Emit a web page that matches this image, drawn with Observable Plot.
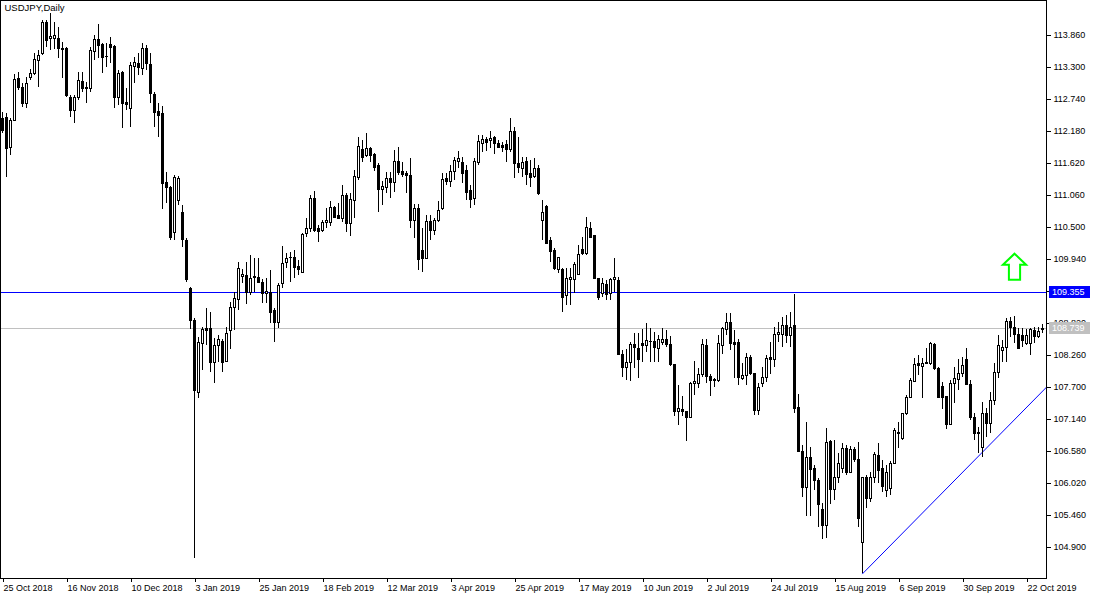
<!DOCTYPE html>
<html><head><meta charset="utf-8">
<script src="https://cdn.jsdelivr.net/npm/d3@7"></script>
<script src="https://cdn.jsdelivr.net/npm/@observablehq/plot@0.6"></script>
<style>
html,body{margin:0;padding:0;background:#fff;}
#chart{width:1100px;height:600px;}
</style></head><body><div id="chart"></div>
<script>
const title = "USDJPY,Daily";
const open = [
112.41,112.43,111.90,112.37,113.11,112.95,112.67,113.13,113.20,113.42,
113.55,114.09,113.81,113.81,113.81,113.63,113.63,112.78,112.55,112.78,
113.06,112.95,112.93,113.58,113.79,113.70,113.49,113.70,113.67,112.78,
113.21,112.69,112.58,113.32,113.37,113.28,113.63,113.35,112.83,112.53,
112.50,111.29,111.20,110.41,110.97,110.76,110.27,109.43,108.87,107.61,
108.47,108.73,108.73,108.14,108.44,108.51,108.16,108.70,109.10,109.24,
109.64,109.66,109.36,109.64,109.62,109.54,109.35,109.36,109.05,108.84,
109.52,109.89,109.98,109.98,109.82,109.71,110.40,110.48,111.01,110.48,
110.45,110.59,110.59,110.85,110.71,110.66,111.06,110.57,110.97,111.38,
111.87,111.76,111.88,111.78,111.59,111.16,111.20,111.36,111.29,111.65,
111.48,111.45,111.41,110.62,110.83,110.10,109.96,110.60,110.45,110.62,
110.83,111.36,111.30,111.48,111.65,111.64,111.50,111.15,111.01,111.64,
111.97,112.04,112.02,112.08,111.97,111.94,111.95,111.87,112.18,111.62,
111.53,111.65,111.45,111.39,111.53,110.62,110.87,110.27,110.10,109.77,
109.77,109.31,109.59,109.59,109.68,110.12,110.05,110.48,110.36,109.61,
109.35,109.50,109.35,109.59,109.57,108.28,108.05,108.14,108.45,108.38,
108.47,108.44,108.51,108.51,108.38,108.49,108.54,108.45,108.10,107.28,
107.31,107.28,107.17,107.77,107.77,107.93,108.44,107.89,107.84,107.82,
108.44,108.72,108.84,108.49,108.49,107.86,107.91,108.22,107.95,107.30,
107.77,107.87,108.22,108.19,108.63,108.63,108.78,108.61,108.78,107.35,
106.58,105.95,106.47,106.28,106.07,105.56,105.28,106.75,105.91,106.12,
106.28,106.63,106.21,106.61,106.44,104.99,106.12,105.76,106.12,106.51,
106.28,105.90,105.93,106.37,106.89,106.81,107.25,107.52,107.80,108.12,
108.07,108.12,108.12,108.45,108.03,107.72,107.54,107.05,107.77,107.84,
107.94,108.19,107.75,107.17,106.91,106.65,107.25,107.07,107.47,107.96,
108.35,108.40,108.85,108.75,108.63,108.61,108.47,108.47,108.70,108.59,
108.71];
const high = [
112.51,112.50,112.41,113.18,113.21,113.02,113.13,113.27,113.55,113.60,
114.12,114.12,114.25,114.09,114.00,113.74,113.65,112.81,112.81,113.21,
113.21,113.04,113.65,113.86,114.05,113.72,113.72,113.83,113.69,113.25,
113.23,112.93,113.39,113.48,113.55,113.72,113.69,113.55,112.86,112.67,
112.62,111.46,111.22,111.41,111.39,110.89,110.31,109.45,108.91,108.58,
108.75,109.08,109.01,108.56,108.61,108.54,108.75,109.19,109.36,109.89,
109.77,109.89,110.01,109.96,109.96,109.59,109.61,109.75,109.08,109.52,
110.17,110.05,110.06,110.10,109.92,110.40,110.66,111.06,111.13,110.54,
110.62,110.83,110.96,110.87,110.92,111.24,111.10,111.10,111.50,112.08,
112.02,112.15,111.90,111.80,111.62,111.30,111.46,111.46,111.85,111.90,
111.64,111.48,111.71,110.90,110.90,110.48,110.71,110.71,110.66,110.96,
111.45,111.45,111.59,111.72,111.83,111.72,111.59,111.24,111.71,112.11,
112.11,112.08,112.18,112.09,112.02,111.99,112.02,112.41,112.25,112.08,
111.72,111.72,111.67,111.71,111.59,110.97,110.89,110.33,110.13,109.98,
109.78,109.78,109.78,109.89,110.19,110.33,110.68,110.59,110.36,109.61,
109.61,109.57,109.61,109.96,109.62,108.35,108.37,108.49,108.64,108.64,
108.72,108.82,108.73,108.66,108.61,108.73,108.70,108.59,108.10,107.73,
107.54,107.28,107.79,108.15,108.03,108.54,108.54,107.92,107.86,108.61,
108.75,108.99,108.99,108.70,108.54,108.12,108.29,108.26,107.95,107.77,
108.05,108.26,108.49,108.75,108.84,108.92,108.96,109.01,109.33,107.57,
106.69,107.09,106.65,106.34,106.11,105.67,106.98,106.77,106.77,106.54,
106.72,106.69,106.67,106.65,106.74,106.12,106.16,106.21,106.56,106.72,
106.42,106.34,106.40,106.98,107.09,107.25,107.56,107.86,108.21,108.26,
108.21,108.38,108.49,108.47,108.05,107.79,107.54,107.82,108.05,108.19,
108.22,108.38,107.82,107.24,107.00,107.44,107.33,107.61,108.12,108.61,
108.52,108.91,108.92,108.94,108.73,108.73,108.72,108.73,108.75,108.75,
108.80];
const low = [
112.15,111.38,111.76,112.36,112.90,112.60,112.58,113.07,113.16,112.95,
113.51,113.65,113.60,113.62,113.46,113.11,112.78,112.43,112.32,112.72,
112.86,112.67,112.86,113.42,113.46,113.20,113.30,113.37,112.58,112.64,
112.23,112.55,112.25,113.02,113.16,113.16,113.25,112.67,112.25,112.08,
110.82,110.92,110.27,110.27,110.89,110.15,109.54,108.72,104.71,107.51,
108.00,108.44,107.96,107.77,108.14,107.96,108.14,108.37,108.70,109.05,
109.52,109.15,109.31,109.36,109.52,109.17,109.17,108.82,108.49,108.73,
109.43,109.78,109.54,109.61,109.66,109.70,110.33,110.41,110.41,110.24,
110.41,110.48,110.52,110.67,110.64,110.59,110.41,110.34,110.66,111.32,
111.64,111.72,111.64,111.48,110.76,110.89,111.10,111.01,111.11,111.41,
111.38,111.10,110.48,110.31,109.75,109.71,109.94,110.27,110.36,110.59,
110.80,111.24,111.20,111.32,111.53,111.27,110.97,110.83,110.89,111.59,
111.81,111.83,111.88,111.78,111.88,111.81,111.64,111.81,111.36,111.45,
111.38,111.24,111.20,111.36,111.06,110.27,110.20,109.89,109.75,109.70,
109.01,109.14,109.14,109.35,109.66,110.01,110.01,110.31,109.59,109.22,
109.27,109.22,109.22,109.36,108.26,107.87,107.82,107.81,108.03,107.86,
108.14,108.31,108.14,108.14,108.14,108.44,108.40,108.07,107.19,107.04,
107.19,106.75,107.16,107.56,107.68,107.87,107.77,107.54,107.70,107.79,
108.28,108.61,108.35,107.86,107.73,107.82,107.73,107.91,107.21,107.21,
107.70,107.79,107.92,108.05,108.49,108.40,108.47,108.40,107.24,106.58,
105.77,105.45,105.45,105.90,105.25,105.04,105.06,105.65,105.72,106.02,
106.20,106.16,106.20,106.39,105.25,104.45,105.58,105.69,106.02,106.02,
105.86,105.77,105.81,106.37,106.63,106.77,107.21,107.51,107.79,107.91,
107.51,108.12,108.09,108.00,107.51,107.32,106.96,107.03,107.42,107.65,
107.87,107.73,107.12,106.77,106.54,106.47,106.82,106.89,107.39,107.86,
108.14,108.14,108.57,108.47,108.38,108.40,108.44,108.26,108.47,108.56,
108.64];
const close = [
112.20,111.88,112.37,113.09,112.95,112.67,113.02,113.20,113.44,113.51,
114.09,113.77,113.84,113.86,113.63,113.62,112.81,112.55,112.78,113.07,
112.93,112.94,113.60,113.79,113.69,113.48,113.485,113.65,112.78,113.20,
112.67,112.66,113.34,113.39,113.30,113.63,113.37,112.85,112.51,112.46,
111.27,111.20,110.33,111.38,111.36,110.29,109.59,108.87,107.65,108.49,
108.72,108.70,108.14,108.44,108.54,108.14,108.65,109.10,109.26,109.78,
109.68,109.36,109.61,109.62,109.54,109.35,109.38,109.01,108.84,109.49,
109.87,109.96,109.97,109.80,109.77,110.38,110.48,111.01,110.45,110.43,
110.59,110.62,110.85,110.68,110.66,111.06,110.57,110.99,111.39,111.92,
111.72,111.88,111.76,111.55,111.16,111.22,111.36,111.29,111.65,111.46,
111.43,111.41,110.62,110.83,109.94,109.96,110.60,110.45,110.62,110.80,
111.34,111.30,111.48,111.67,111.71,111.45,111.11,110.99,111.65,112.00,
112.04,111.99,112.06,111.97,111.90,111.90,111.87,112.18,111.62,111.55,
111.64,111.43,111.38,111.53,111.10,110.76,110.22,110.08,109.78,109.98,
109.27,109.61,109.62,109.85,110.03,110.05,110.50,110.33,109.61,109.27,
109.52,109.33,109.59,109.62,108.28,108.05,108.14,108.45,108.40,108.19,
108.44,108.52,108.50,108.40,108.54,108.54,108.45,108.10,107.28,107.33,
107.28,107.17,107.77,107.80,107.93,108.45,107.89,107.82,107.83,108.47,
108.73,108.84,108.47,108.46,107.87,107.91,108.22,107.95,107.30,107.70,
107.87,108.21,108.19,108.63,108.66,108.78,108.61,108.75,107.33,106.58,
105.95,106.47,106.26,106.07,105.65,105.28,106.74,105.91,106.12,106.37,
106.63,106.21,106.61,106.44,105.41,106.12,105.76,106.12,106.53,106.25,
105.96,106.21,106.37,106.95,106.91,107.25,107.52,107.82,108.10,108.09,
108.12,108.14,108.47,108.03,107.52,107.52,107.05,107.77,107.86,107.94,
108.09,107.75,107.17,106.89,106.89,107.25,107.07,107.47,107.96,108.44,
108.40,108.85,108.75,108.63,108.38,108.52,108.61,108.72,108.59,108.68,
108.739];

const dateTickBars = [0,16,32,48,64,80,96,112,128,144,160,176,192,208,224,240,256];
const dateTickLabels = ["25 Oct 2018","16 Nov 2018","10 Dec 2018","3 Jan 2019","25 Jan 2019","18 Feb 2019","12 Mar 2019","3 Apr 2019","25 Apr 2019","17 May 2019","10 Jun 2019","2 Jul 2019","24 Jul 2019","15 Aug 2019","6 Sep 2019","30 Sep 2019","22 Oct 2019"];
const priceTicks = [113.86,113.30,112.74,112.18,111.62,111.06,110.50,109.94,109.38,108.82,108.26,107.70,107.14,106.58,106.02,105.46,104.90];
const levelLine = [109.355];
const bidLine = [108.739];
const trendBars = [215, 261];
const trendPrices = [104.44, 107.705];
const arrowBars = [253];
const arrowPrices = [109.82];

const bars = open.map((o, i) => ({i, open: o, high: high[i], low: low[i], close: close[i],
  top: Math.max(o, close[i]), bot: Math.min(o, close[i]), up: close[i] >= o}));
const trend = trendBars.map((b, k) => ({bar: b, price: trendPrices[k]}));
const arrows = arrowBars.map((b, k) => ({bar: b, price: arrowPrices[k]}));

const arrowSymbol = {
  draw(ctx, size) {
    const s = Math.sqrt(size / Math.PI) / 13;
    const pts = [[0,-12.7],[11.6,-1.7],[5.6,-1.7],[5.6,13.3],[-5.6,13.3],[-5.6,-1.7],[-11.6,-1.7]];
    ctx.moveTo(pts[0][0]*s, pts[0][1]*s);
    for (let k = 1; k < pts.length; k++) ctx.lineTo(pts[k][0]*s, pts[k][1]*s);
    ctx.closePath();
  }
};

const FONT = "'Liberation Sans', Arial, sans-serif";
const labelFor = d => dateTickLabels[dateTickBars.indexOf(d)];

const plot = Plot.plot({
  width: 1100, height: 600,
  marginLeft: 0, marginRight: 54, marginTop: 0, marginBottom: 22,
  style: {fontFamily: FONT, fontSize: "9px", color: "#000", background: "#fff"},
  x: {type: "linear", domain: [-0.5, 261], axis: null},
  y: {domain: [104.3575, 114.4725], axis: null},
  marks: [
    Plot.ruleY(levelLine, {stroke: "#0000ff", shapeRendering: "crispEdges"}),
    Plot.ruleY(bidLine, {stroke: "#c0c0c0", shapeRendering: "crispEdges"}),
    Plot.line(trend, {x: "bar", y: "price", stroke: "#0000ff", strokeWidth: 1}),
    Plot.ruleX(bars, {x: "i", y1: "low", y2: "high", stroke: "#000", shapeRendering: "crispEdges"}),
    Plot.rect(bars, {x1: d => d.i - 0.25, x2: d => d.i + 0.5, y1: "bot", y2: "top", fill: "#000", insetBottom: -1, shapeRendering: "crispEdges"}),
    Plot.rect(bars.filter(d => d.up), {x1: d => d.i, x2: d => d.i + 0.25, y1: "bot", y2: "top", fill: "#fff", insetTop: 1, shapeRendering: "crispEdges"}),
    Plot.dot(arrows, {x: "bar", y: "price", symbol: arrowSymbol, r: 13, stroke: "#00ff00", strokeWidth: 2, fill: "#fff", strokeLinejoin: "miter"}),
    Plot.text([title], {frameAnchor: "top-left", text: d => d, dx: 4, dy: 10, lineAnchor: "bottom", fontSize: 9.5, fill: "#000"}),
    Plot.frame({stroke: "#000", shapeRendering: "crispEdges"}),
    Plot.axisY(priceTicks, {anchor: "right", tickSize: 4, tickPadding: 3, tickFormat: d => d.toFixed(3), fontSize: 9, fill: "#000"}),
    Plot.axisX(dateTickBars, {anchor: "bottom", tickSize: 4, tickPadding: 2, tickFormat: labelFor, textAnchor: "start", dx: 1, fontSize: 9, fill: "#000"})
  ]
});

document.getElementById("chart").appendChild(plot);

// price tags on the right axis, placed through the plot's own x and y scales
const xScale = plot.scale("x");
const yScale = plot.scale("y");
const svg = d3.select(plot);
const axisX = Math.round(xScale.apply(261));
function tag(value, bg, fg) {
  const y = Math.round(yScale.apply(value));
  const g = svg.append("g").attr("text-anchor", "start");
  g.append("rect").attr("x", axisX + 3).attr("y", y - 6).attr("width", 41).attr("height", 12).attr("fill", bg);
  g.append("text").attr("x", axisX + 6).attr("y", y).attr("dy", "0.35em").attr("text-anchor", "start")
    .attr("fill", fg).attr("font-family", FONT).attr("font-size", 9).text(value.toFixed(3));
}
tag(levelLine[0], "#0000ff", "#fff");
tag(bidLine[0], "#c0c0c0", "#fff");
</script>
</body></html>
